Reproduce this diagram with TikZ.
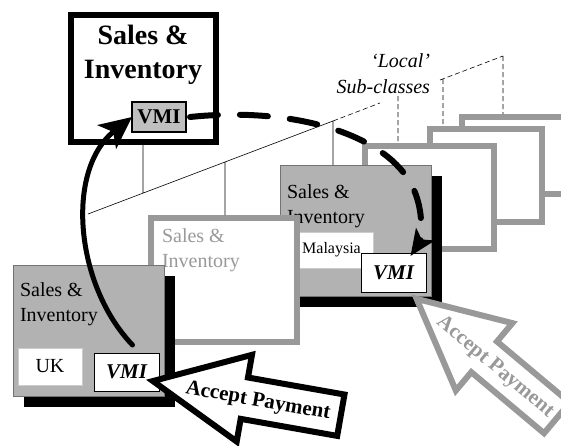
\documentclass[tikz,border=0pt]{standalone}
\usepackage{fontspec}
\setmainfont{Liberation Serif}
\usetikzlibrary{arrows.meta, shadows}
\newcommand{\fsz}[2]{\fontsize{#1}{#2}\selectfont}
\definecolor{sitegray}{gray}{.70}
\definecolor{framegray}{gray}{.60}
\definecolor{vmigray}{gray}{.75}
\tikzset{
  pinned/.style = {anchor=north west, inner sep=0pt, outer sep=0pt},
  site/.style = {pinned, draw=black!55, line width=.8pt, fill=sitegray,
    minimum width=151pt, minimum height=131pt,
    drop shadow={shadow xshift=11pt, shadow yshift=-11pt, fill=black, opacity=1}},
  grayframe/.style = {pinned, outer sep=3pt, draw=framegray, line width=6pt, fill=white},
  sitetext/.style = {pinned, align=left, font=\fsz{20}{25}},
  namebox/.style = {pinned, draw=black!20, line width=.6pt, fill=white, font=\fsz{20}{24}},
  vmi/.style = {pinned, draw=black, line width=1pt, fill=white,
    minimum width=65pt, minimum height=38pt, font=\bfseries\itshape\fsz{21}{25}},
  bigarrow/.style = {line width=6pt, fill=white, line join=miter},
}
\begin{document}
\begin{tikzpicture}[x=1pt, y=-1pt]
  \clip (0,0) rectangle (561,445);
  \foreach \x/\y/\w/\h/\n in {459/114/130pt/77pt/back, 427/126/112pt/93pt/mid, 362/143/129pt/103pt/front}
    \node [grayframe, minimum width=\w, minimum height=\h] (\n) at (\x,\y) {};

  \node [site] (my) at (280,165) {};
  \node [sitetext] (mytext) at (287,185) {Sales \&\\Inventory};
  \node [namebox, minimum width=83pt, minimum height=36pt, font=\fsz{16}{19}] (myname) at (290,232) {Malaysia};
  \node [vmi, minimum height=39pt] (myvmi) at (361,253) {VMI};

  \node [grayframe, minimum width=146pt, minimum height=124pt] (light) at (148,215) {};
  \node [sitetext, text=framegray] (lighttext) at (162,229) {Sales \&\\Inventory};

  \node [site] (uk) at (13,265) {};
  \node [sitetext] (uktext) at (20,283) {Sales \&\\Inventory};
  \node [namebox, minimum width=64pt, minimum height=37pt] (ukname) at (18,348) {UK};
  \node [vmi] (ukvmi) at (94,353) {VMI};

  \node [pinned, outer sep=3pt, draw, line width=6pt, minimum width=145pt, minimum height=127pt] (hq) at (68,12) {};
  \node [pinned, anchor=north, align=center, font=\bfseries\fsz{28}{34}] (hqtext) at (143,25) {Sales \&\\Inventory};
  \node [pinned, draw, line width=1.2pt, fill=vmigray, minimum width=54pt, minimum height=30pt,
    font=\bfseries\fsz{21}{25}] (hqvmi) at (132,102) {VMI};

  % sub-class fan
  \coordinate (f0) at (88,214);
  \coordinate (f1) at (143,193);
  \coordinate (f2) at (225,162);
  \coordinate (f3) at (333,121);
  \coordinate (f4) at (380,103);
  \coordinate (f5) at (440,80);
  \coordinate (f6) at (503,56);
  \coordinate (fa) at (398,96);
  \coordinate (fb) at (443,79);
  \draw [line width=.6pt] (f0) -- (f3) (f1) -- (f1 |- hq.south)
    (f2) -- (f2 |- light.north) (f3) -- (f3 |- my.north);
  \draw [line width=.6pt, dash pattern=on 5pt off 3pt] (f3) -- (f4) (f5) -- (f6)
    (fa) -- (fa |- front.north) (fb) -- (fb |- mid.north) (f6) -- (f6 |- back.north);
  \node [pinned, anchor=north east, align=right, font=\itshape\fsz{20}{26}] (local) at (430,54) {‘Local’\\Sub-classes};

  \draw [line width=5pt, line cap=round, -{Stealth[length=32pt, width=30pt, inset=8pt]}]
    ([shift={(6,-8)}]ukvmi.north) .. controls (75,285) and (65,170) .. (hqvmi.west);
  \draw [line width=6pt, line cap=round, dash pattern=on 28pt off 22pt,
    -{Stealth[length=26pt, width=22pt, inset=6pt]}]
    ([shift={(4,0)}]hqvmi.east) .. controls (295,106) and (395,135) .. (416,195)
    .. controls (426,224) and (418,245) .. ([shift={(17,3)}]myvmi.north);

  \begin{scope}[shift={(147,380)}, rotate=-10]
    \draw [bigarrow] (6,0) -- (99,-43) -- (99,-20) -- (197,-20) -- (197,22) -- (99,22) -- (99,45) -- cycle;
    \node [font=\bfseries\fsz{21}{25}, rotate=-10] (pay) at (113,2) {Accept Payment};
  \end{scope}
  \begin{scope}[shift={(412,295)}, rotate=-40]
    \draw [bigarrow, draw=framegray] (6,0) -- (95,-43) -- (95,-19) -- (190,-19) -- (190,21) -- (95,21) -- (95,45) -- cycle;
    \node [font=\bfseries\fsz{21}{25}, rotate=-40, text=framegray] (graypay) at (110,2) {Accept Payment};
  \end{scope}
\end{tikzpicture}
\end{document}
